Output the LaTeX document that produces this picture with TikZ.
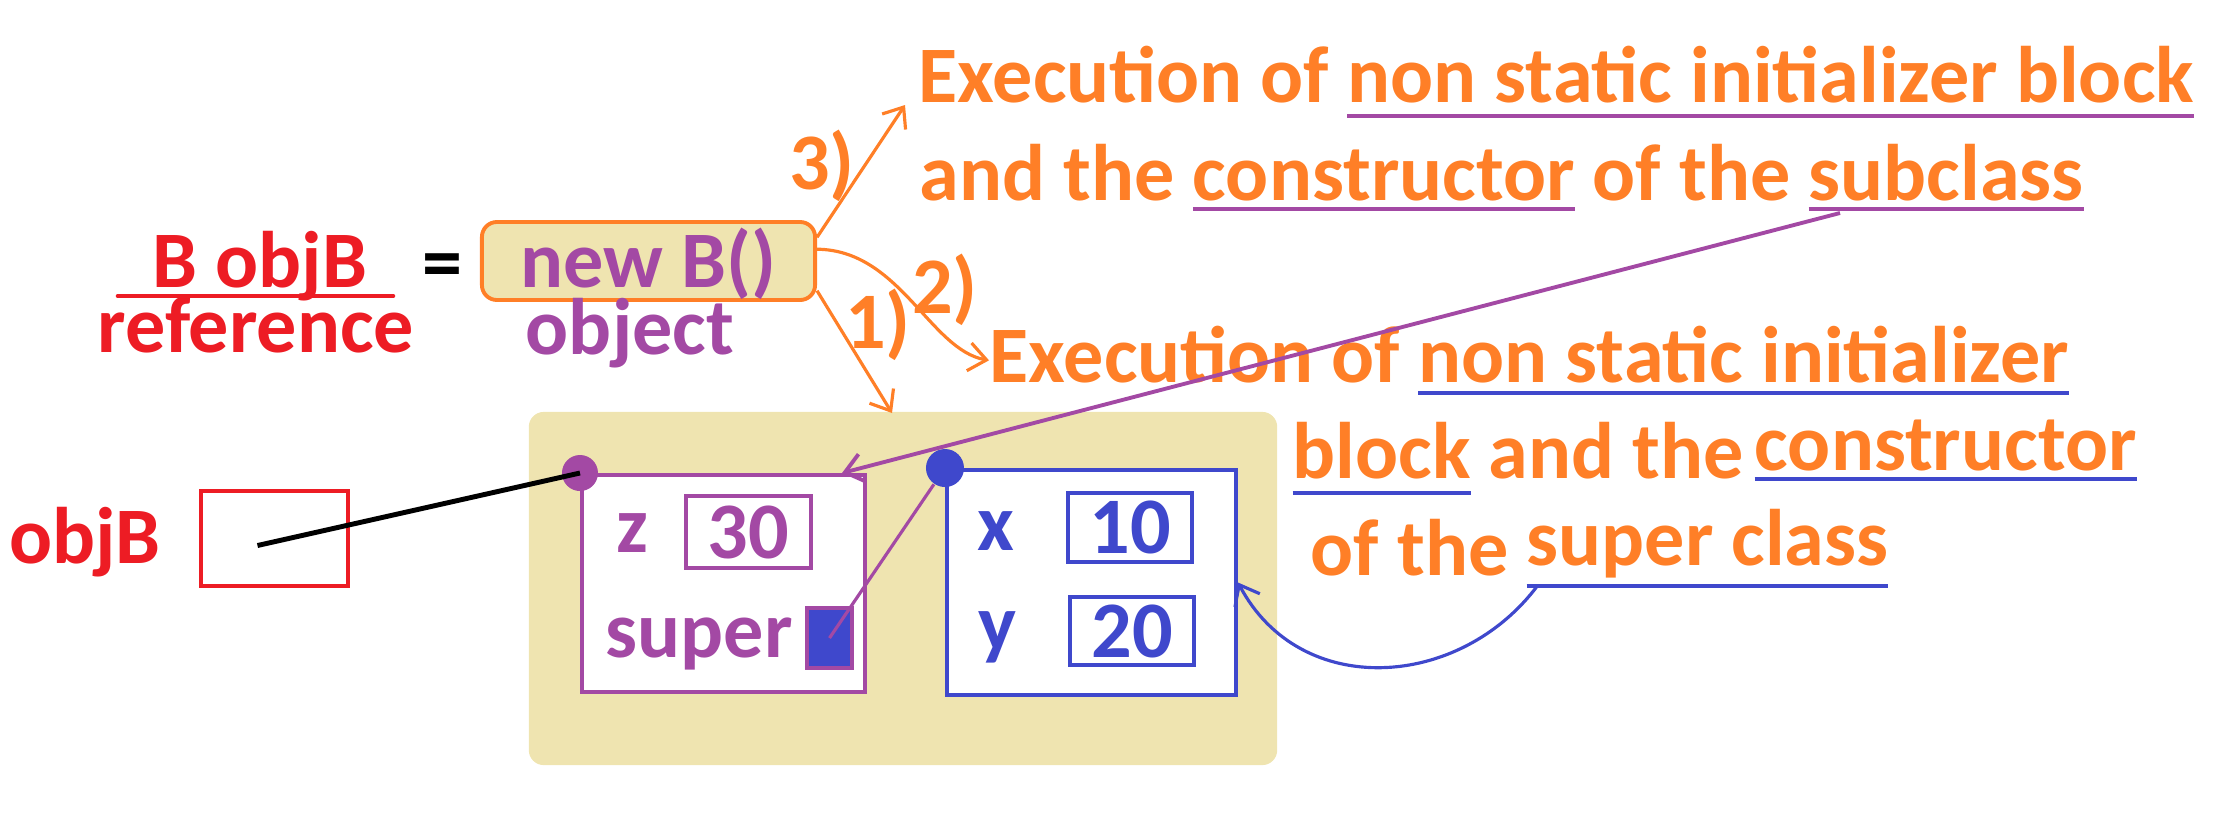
\documentclass[tikz,border=0pt]{standalone}
\usepackage{fontspec}
\setmainfont{Carlito}
\usetikzlibrary{arrows.meta, calc}
\definecolor{txtorange}{HTML}{FF7F27}
\definecolor{objpurple}{HTML}{A349A4}
\definecolor{refred}{HTML}{ED1C24}
\definecolor{superblue}{HTML}{3F48CC}
\definecolor{heapbeige}{HTML}{EFE4B0}
\newcommand{\ulword}[3]{\setbox0=\hbox{#3}\rlap{\textcolor{#1}{\rule[-#2]{\wd0}{1.1pt}}}\box0\relax}
\tikzset{
  every node/.style={font=\fontsize{22.8pt}{27pt}\selectfont\bfseries, inner sep=0pt},
  slot/.style={draw, line width=1.1pt, fill=white},
  note/.style={anchor=base west, text=txtorange},
  stepline/.style={->, txtorange, line width=0.9pt}
}

\begin{document}
\begin{tikzpicture}[x=0.01cm, y=-0.01cm, >={Straight Barb[length=5pt,width=8pt]}]
  \useasboundingbox (0,0) rectangle (2238,826);

  % declaration
  \node[text=refred, anchor=base] (declB) at (260,287) {B objB};
  \node[text=refred, anchor=base] (refTxt) at (256,352) {reference};
  \draw[refred, line width=1.3pt, line cap=round] (118,296) -- (393,296);
  \node[anchor=base] (eqSign) at (442,289) {=};

  \node[draw=txtorange, fill=heapbeige, line width=1.1pt, rounded corners=0.15cm, anchor=base,
        minimum width=3.33cm, text height=0.65cm, text depth=0.13cm, text=objpurple] (newB) at (648.5,287) {new B()};
  \node[text=objpurple, anchor=base] (objTxt) at (630,354) {object};

  % heap
  \node[fill=heapbeige, rounded corners=0.15cm, minimum width=7.48cm, minimum height=3.53cm] (heap) at (903,588.5) {};

  % subclass part
  \node[slot, draw=objpurple, minimum width=2.83cm, minimum height=2.17cm] (subObj) at (723.5,583.5) {};
  \node[text=objpurple, anchor=base] (zName) at (632,552) {z};
  \node[slot, draw=objpurple, text=objpurple, minimum width=1.25cm, minimum height=0.72cm] (zVal) at (748.5,532) {30};
  \node[text=objpurple, anchor=base west] (superName) at (605,657) {super};
  \node[slot, draw=objpurple, fill=superblue, minimum width=0.45cm, minimum height=0.6cm] (superRef) at (829.5,638) {};

  % superclass part
  \node[slot, draw=superblue, minimum width=2.89cm, minimum height=2.25cm] (supObj) at (1091.5,582.5) {};
  \node[text=superblue, anchor=base] (xName) at (996,550) {x};
  \node[slot, draw=superblue, text=superblue, minimum width=1.24cm, minimum height=0.69cm] (xVal) at (1130,527.5) {10};
  \node[text=superblue, anchor=base] (yName) at (997,650) {y};
  \node[slot, draw=superblue, text=superblue, minimum width=1.24cm, minimum height=0.68cm] (yVal) at (1132,631) {20};

  \node[circle, fill=objpurple, minimum size=0.36cm] (subDot) at (subObj.north west) {};
  \node[circle, fill=superblue, minimum size=0.38cm] (supDot) at (supObj.north west) {};

  % reference variable
  \node[text=refred, anchor=base] (varName) at (85,563) {objB};
  \node[draw=refred, line width=1.1pt, minimum width=1.47cm, minimum height=0.95cm] (refBox) at (274.5,538.5) {};

  \draw[line width=1.4pt] ($(refBox.center)+(-17,7)$) -- (subDot.center);
  \draw[objpurple, line width=0.9pt] (superRef.center) -- (supDot);

  % explanations
  \node[note] (execSub) at (918,102) {Execution of \ulword{objpurple}{0.16cm}{non static initializer block}};
  \node[note] (execSubB) at (919,200) {and the \ulword{objpurple}{0.11cm}{constructor} of the \ulword{objpurple}{0.11cm}{subclass}};
  \node[note] (execSup) at (989,382) {Execution of \ulword{superblue}{0.13cm}{non static initializer}};
  \node[note] (execSupB) at (1292,478) {\ulword{superblue}{0.17cm}{block} and the\hspace{-2pt} \raisebox{0.08cm}{\ulword{superblue}{0.11cm}{constructor}}};
  \node[note] (execSupC) at (1310,575) {of the \raisebox{0.1cm}{\ulword{superblue}{0.23cm}{super class}}};

  % order of execution
  \coordinate (tip3) at (905,105);
  \coordinate (tip1) at (892,413);
  \draw[stepline] (newB.8) -- (tip3);
  \draw[stepline] (newB.-10) -- (tip1);
  \draw[stepline] (newB.4) .. controls (900,250) and (930,350) .. (execSup.west);
  \node[text=txtorange] (step3) at (822,166) {3)};
  \node[text=txtorange] (step1) at (878,325) {1)};
  \node[text=txtorange] (step2) at (945,290) {2)};

  % links from the texts
  \coordinate (subLink) at (1840,213);
  \coordinate (supLink) at (1538,585);
  \draw[->, objpurple, line width=1.1pt] (subLink) -- ([xshift=-0.25cm]subObj.north east);
  \draw[->, superblue, line width=0.9pt] (supLink) .. controls (1460,690) and (1300,700) .. (supObj.east);
\end{tikzpicture}
\end{document}
